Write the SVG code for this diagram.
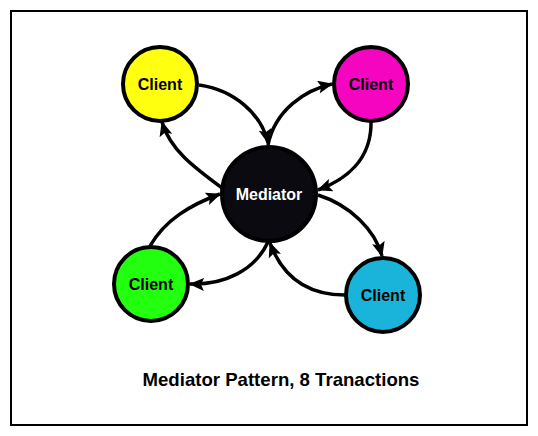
<svg xmlns="http://www.w3.org/2000/svg" width="538" height="436" viewBox="0 0 538 436">
<style>
.node{stroke:#000;stroke-width:4}
.lbl{font-family:"Liberation Sans",Arial,sans-serif;font-weight:bold;font-size:16px;text-anchor:middle;fill:#000}
.conn{fill:none;stroke:#000;stroke-width:3.5;marker-end:url(#ah)}
</style>
<defs>
<marker id="ah" markerUnits="userSpaceOnUse" markerWidth="15" markerHeight="13" refX="14" refY="6.5" orient="auto" viewBox="0 0 15 13">
<path d="M0,0 L15,6.5 L0,13 L3,6.5 z" fill="#000"/>
</marker>
</defs>
<rect x="11" y="11" width="516" height="414" fill="#fff" stroke="#000" stroke-width="2"/>
<g id="connectors">
<path class="conn" d="M199,85 C235,90 262,115 268,143"/>
<path class="conn" d="M268,145 C275,110 305,90 332,84"/>
<path class="conn" d="M371,121 C372,160 345,180 318,190"/>
<path class="conn" d="M318,195 C350,205 375,230 382,256"/>
<path class="conn" d="M345,295 C300,295 280,270 270,243"/>
<path class="conn" d="M268,242 C255,270 225,285 190,284"/>
<path class="conn" d="M150,246 C165,220 190,205 220,194"/>
<path class="conn" d="M222,188 C195,168 170,150 162,122"/>
</g>
<g id="client-yellow"><circle class="node" cx="160" cy="84" r="37" fill="#ffff0f"/><text class="lbl" x="160" y="90">Client</text></g>
<g id="client-magenta"><circle class="node" cx="371" cy="84" r="37" fill="#f505c0"/><text class="lbl" x="371" y="90">Client</text></g>
<g id="mediator"><circle class="node" cx="269" cy="194" r="47" fill="#0b0a10"/><text class="lbl" x="269" y="200" style="fill:#fff">Mediator</text></g>
<g id="client-green"><circle class="node" cx="151" cy="284" r="37" fill="#22ff0f"/><text class="lbl" x="151" y="290">Client</text></g>
<g id="client-cyan"><circle class="node" cx="383" cy="295" r="37" fill="#1ab4da"/><text class="lbl" x="383" y="301">Client</text></g>
<text class="lbl" x="281" y="386" style="font-size:18.6px">Mediator Pattern, 8 Tranactions</text>
</svg>
